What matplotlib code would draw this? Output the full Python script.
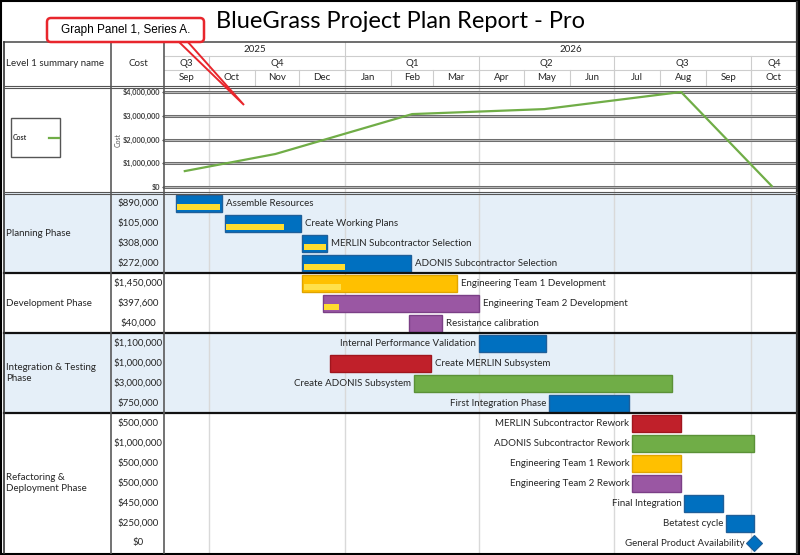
import matplotlib
matplotlib.use('Agg')
import matplotlib.pyplot as plt
import matplotlib.dates as mdates
from matplotlib.patches import Rectangle, FancyBboxPatch, Polygon
from datetime import date

plt.rcParams['font.family'] = ['Lato', 'DejaVu Sans']

# ---- data ----
months = ['Sep', 'Oct', 'Nov', 'Dec', 'Jan', 'Feb', 'Mar', 'Apr', 'May', 'Jun', 'Jul', 'Aug', 'Sep', 'Oct']
quarters = ['Q3', 'Q4', 'Q1', 'Q2', 'Q3', 'Q4']
quarter_starts = ['2025-09-01', '2025-10-01', '2026-01-01', '2026-04-01', '2026-07-01', '2026-10-01', '2026-11-01']
years = ['2025', '2026']
year_starts = ['2025-09-01', '2026-01-01', '2026-11-01']

cost_dates = ['2025-09-15', '2025-11-15', '2026-02-15', '2026-05-15', '2026-08-15', '2026-10-15']
cost_values = [670000, 1390000, 3070000, 3280000, 4000000, 40000]

phases = ['Planning Phase', 'Development Phase', 'Integration & Testing\nPhase', 'Refactoring &\nDeployment Phase']
phase_sizes = [4, 3, 4, 7]

tasks = ['Assemble Resources', 'Create Working Plans', 'MERLIN Subcontractor Selection',
         'ADONIS Subcontractor Selection', 'Engineering Team 1 Development',
         'Engineering Team 2 Development', 'Resistance calibration',
         'Internal Performance Validation', 'Create MERLIN Subsystem', 'Create ADONIS Subsystem',
         'First Integration Phase', 'MERLIN Subcontractor Rework', 'ADONIS Subcontractor Rework',
         'Engineering Team 1 Rework', 'Engineering Team 2 Rework', 'Final Integration',
         'Betatest cycle', 'General Product Availability']
costs = ['$890,000', '$105,000', '$308,000', '$272,000', '$1,450,000', '$397,600', '$40,000',
         '$1,100,000', '$1,000,000', '$3,000,000', '$750,000', '$500,000', '$1,000,000',
         '$500,000', '$500,000', '$450,000', '$250,000', '$0']
starts = ['2025-09-09', '2025-10-12', '2025-12-03', '2025-12-03', '2025-12-03', '2025-12-17',
          '2026-02-13', '2026-04-01', '2025-12-22', '2026-02-16', '2026-05-18', '2026-07-13',
          '2026-07-13', '2026-07-13', '2026-07-13', '2026-08-17', '2026-09-14', '2026-10-03']
ends = ['2025-10-10', '2025-12-02', '2025-12-20', '2026-02-14', '2026-03-17', '2026-04-01',
        '2026-03-07', '2026-05-16', '2026-02-28', '2026-08-09', '2026-07-11', '2026-08-15',
        '2026-10-03', '2026-08-15', '2026-08-15', '2026-09-12', '2026-10-03', '2026-10-03']
progress = ['2025-10-10', '2025-11-21', '2025-12-20', '2026-01-01', '2025-12-29', '2025-12-28',
            None, None, None, None, None, None, None, None, None, None, None, None]
bar_kind = ['blue', 'blue', 'blue', 'blue', 'gold', 'purple', 'purple', 'blue', 'red', 'green',
            'blue', 'red', 'green', 'gold', 'purple', 'blue', 'blue', 'blue']
label_left = [False, False, False, False, False, False, False, True, False, True, True,
              True, True, True, True, True, True, True]

fills = {'blue': '#0070C0', 'gold': '#FFC000', 'purple': '#9A57A3', 'red': '#C0202A', 'green': '#70AD47'}
edges = {'blue': '#1F5F99', 'gold': '#E0A400', 'purple': '#7B3F86', 'red': '#A0161E', 'green': '#5B9137'}

W, H = 800, 555


def rect(x0, y0, x1, y1):
    return [x0 / W, 1 - y1 / H, (x1 - x0) / W, (y1 - y0) / H]


fig = plt.figure(figsize=(8, 5.55), dpi=100)
fig.patch.set_facecolor('white')

t0 = mdates.datestr2num('2025-09-01')
t1 = mdates.datestr2num('2026-11-01')
q_nums = mdates.datestr2num(quarter_starts)
n = len(tasks)
txt = '#262626'

# ---- header (years / quarters / months) ----
ax_head = fig.add_axes(rect(164, 42, 797, 86))
ax_head.set_xlim(t0, t1)
ax_head.set_ylim(86, 42)
ax_head.axis('off')
m_nums = []
y, m = 2025, 9
for i in range(len(months) + 1):
    m_nums.append(mdates.date2num(date(y, m, 1)))
    m += 1
    if m > 12:
        m, y = 1, y + 1
grid_c = '#cdcdcd'
for i, lab in enumerate(months):
    ax_head.text((m_nums[i] + m_nums[i + 1]) / 2, 78, lab, ha='center', va='center', fontsize=7, color=txt)
    if i > 0:
        ax_head.plot([m_nums[i]] * 2, [70, 86], color=grid_c, lw=0.8)
for i, lab in enumerate(quarters):
    ax_head.text((q_nums[i] + q_nums[i + 1]) / 2, 63, lab, ha='center', va='center', fontsize=7, color=txt)
    if i > 0:
        ax_head.plot([q_nums[i]] * 2, [56, 86], color=grid_c, lw=0.8)
y_nums = mdates.datestr2num(year_starts)
for i, lab in enumerate(years):
    ax_head.text((y_nums[i] + y_nums[i + 1]) / 2, 49, lab, ha='center', va='center', fontsize=7, color=txt)
    if i > 0:
        ax_head.plot([y_nums[i]] * 2, [42, 86], color=grid_c, lw=0.8)
ax_head.axhline(56, color=grid_c, lw=0.8)
ax_head.axhline(70, color=grid_c, lw=0.8)

# ---- cost line panel ----
ax_line = fig.add_axes(rect(164, 92, 797, 187))
ax_line.set_xlim(t0, t1)
ax_line.set_ylim(0, 4000000)
for s in ax_line.spines.values():
    s.set_visible(False)
ax_line.set_xticks([])
yt = [0, 1000000, 2000000, 3000000, 4000000]
ax_line.set_yticks(yt)
ax_line.set_yticklabels(['${:,.0f}'.format(v) for v in yt])
ax_line.tick_params(axis='y', length=1.5, width=0.8, color='#404040', labelsize=5.3, pad=1,
                    labelcolor='#404040')
for lb in ax_line.get_yticklabels():
    lb.set_fontweight('bold')
for v in yt:
    ax_line.axhline(v, color='#6e6e6e', lw=2.2, zorder=1, clip_on=False)
    ax_line.axhline(v, color='#d8d8d8', lw=0.5, zorder=1.1, clip_on=False)
for q in q_nums[1:-1]:
    ax_line.axvline(q, ymin=-6 / 95, ymax=1 + 6 / 95, color='#d9d9d9', lw=1, zorder=0, clip_on=False)
ax_line.plot(mdates.datestr2num(cost_dates), cost_values, color='#70AD47', lw=1.6, zorder=3,
             clip_on=False)
ax_line.set_ylabel('Cost', fontsize=5, color='#555555')
ax_line.yaxis.set_label_coords((122 - 164) / 633, 0.5)

# ---- left table (phase names, costs) ----
ax_left = fig.add_axes(rect(4, 193, 164, 553))
ax_left.set_xlim(4, 164)
ax_left.set_ylim(n - 0.5, -0.5)
ax_left.axis('off')

ax_g = fig.add_axes(rect(164, 193, 797, 553))
ax_g.set_xlim(t0, t1)
ax_g.set_ylim(n - 0.5, -0.5)
ax_g.axis('off')

row0 = 0
for k, (ph, sz) in enumerate(zip(phases, phase_sizes)):
    for ax in (ax_left, ax_g):
        if k % 2 == 0:
            ax.axhspan(row0 - 0.5, row0 + sz - 0.5, color='#E5EFF8', lw=0, zorder=0)
        if k < len(phases) - 1:
            ax.axhline(row0 + sz - 0.5, color='#111111', lw=1.6, zorder=4, clip_on=False)
    ax_left.text(6, row0 + (sz - 1) / 2, ph, ha='left', va='center', fontsize=7, color=txt,
                 linespacing=1.3)
    row0 += sz

for i, c in enumerate(costs):
    ax_left.text(138, i, c, ha='center', va='center', fontsize=7, color=txt)

for q in q_nums[1:-1]:
    ax_g.axvline(q, color='#d9d9d9', lw=1, zorder=0.5)

s_nums = mdates.datestr2num(starts)
e_nums = mdates.datestr2num(ends)
for i in range(n):
    k = bar_kind[i]
    if e_nums[i] == s_nums[i]:
        ax_g.plot(s_nums[i], i, marker='D', ms=8, color=fills[k], mec=edges[k], mew=0.8, zorder=3,
                  clip_on=False)
        ax_g.annotate(tasks[i], (s_nums[i], i), xytext=(-7, 0), textcoords='offset points',
                      ha='right', va='center', fontsize=7, color=txt)
        continue
    ax_g.barh(i, e_nums[i] - s_nums[i], left=s_nums[i], height=0.85, color=fills[k],
              edgecolor=edges[k], lw=1, zorder=2)
    if progress[i] is not None:
        p = min(mdates.datestr2num(progress[i]), e_nums[i] - 1)
        pc = '#FFE04A' if k == 'gold' else '#FFDD2E'
        ax_g.barh(i + 0.22, p - s_nums[i] - 1, left=s_nums[i] + 1, height=0.3, color=pc,
                  lw=0, zorder=2.5)
    if label_left[i]:
        ax_g.annotate(tasks[i], (s_nums[i], i), xytext=(-2, 0), textcoords='offset points',
                      ha='right', va='center', fontsize=7, color=txt)
    else:
        ax_g.annotate(tasks[i], (e_nums[i], i), xytext=(2.8, 0), textcoords='offset points',
                      ha='left', va='center', fontsize=7, color=txt)

# ---- frame, title, legend, callout ----
ax_f = fig.add_axes([0, 0, 1, 1], zorder=5)
ax_f.set_xlim(0, W)
ax_f.set_ylim(H, 0)
ax_f.axis('off')
dark = '#555555'
ax_f.plot([4, 797], [42, 42], color=dark, lw=1.2)
ax_f.plot([4, 4], [42, 553], color='#333333', lw=1.2)
ax_f.plot([797, 797], [2, 553], color='#333333', lw=1.6)
for xx in (111, 164):
    ax_f.plot([xx, xx], [42, 553], color='#5a5a5a', lw=1.2)
for yy in (85.5, 87.5, 192, 194):
    ax_f.plot([4, 797], [yy, yy], color=dark, lw=0.8)
ax_f.add_patch(Rectangle((0.8, 0.8), 798.4, 553.4, fill=False, ec='black', lw=1.5))

ax_f.text(401, 21, 'BlueGrass Project Plan Report - Pro', ha='center', va='center', fontsize=17,
          color='black')

ax_f.text(6, 64, 'Level 1 summary name', ha='left', va='center', fontsize=7, color=txt)
ax_f.text(138, 64, 'Cost', ha='center', va='center', fontsize=7, color=txt)

ax_f.add_patch(Rectangle((11, 118), 49, 39, fill=False, ec='#555555', lw=1))
ax_f.text(13, 138, 'Cost', ha='left', va='center', fontsize=5, fontweight='bold', color='#333333')
ax_f.plot([49, 59], [138, 138], color='#70AD47', lw=1.6)

red = '#E8262C'
ax_f.add_patch(Polygon([(178, 41), (244, 105), (187, 41)], closed=True, fill=False, ec=red, lw=1.4,
                       zorder=6))
ax_f.add_patch(FancyBboxPatch((47, 18), 157, 24, boxstyle='round,pad=0,rounding_size=4',
                              fc='white', ec=red, lw=1.8, zorder=7))
ax_f.text(125.5, 30, 'Graph Panel 1, Series A.', ha='center', va='center', fontsize=8.5,
          family='Liberation Sans', color='black', zorder=8)

fig.savefig('out.png', dpi=100)
